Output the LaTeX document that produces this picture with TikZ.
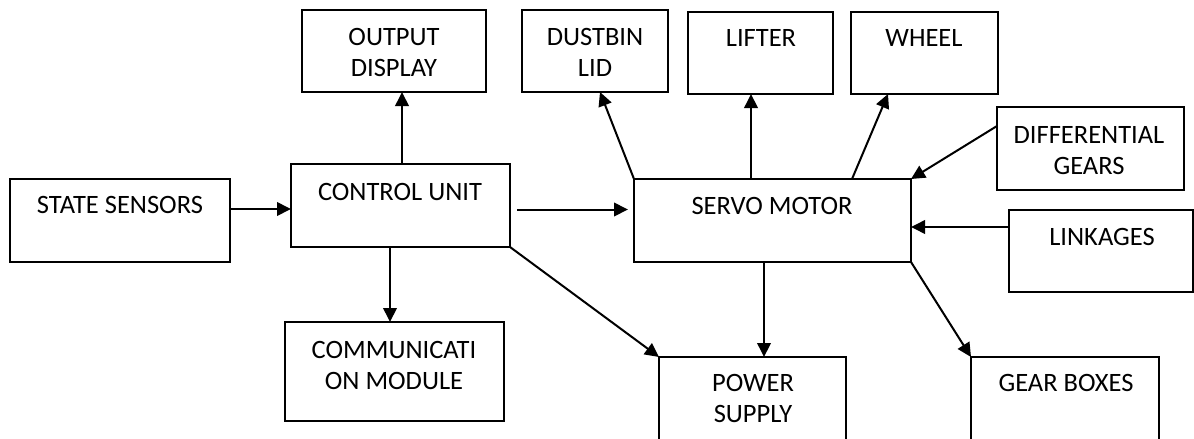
\documentclass[tikz,border=0pt]{standalone}
\usepackage{fontspec}
\setmainfont{Carlito}
\usetikzlibrary{arrows.meta}
\tikzset{
  box/.style={draw=black, line width=2pt, inner sep=0pt, outer sep=0pt, anchor=north west},
  lbl/.style={anchor=base, inner sep=0pt, align=center, font=\fontsize{26.5pt}{31pt}\selectfont},
  arr/.style={draw=black, line width=2pt, -{Triangle[length=14pt,width=13.5pt]}},
}
\begin{document}
\begin{tikzpicture}[x=1pt,y=-1pt]
\useasboundingbox (0,0) rectangle (1194,439);
% boxes
\node[box, minimum width=184pt, minimum height=82pt] (out) at (302,10) {};
\node[box, minimum width=146pt, minimum height=82pt] (dust) at (522,10) {};
\node[box, minimum width=145pt, minimum height=82pt] (lift) at (688,12) {};
\node[box, minimum width=147pt, minimum height=82pt] (wheel) at (851,12) {};
\node[box, minimum width=187pt, minimum height=83pt] (diff) at (997,107) {};
\node[box, minimum width=220pt, minimum height=83pt] (state) at (10,179) {};
\node[box, minimum width=219pt, minimum height=83pt] (ctrl) at (291,164) {};
\node[box, minimum width=277pt, minimum height=83pt] (servo) at (634,179) {};
\node[box, minimum width=184pt, minimum height=82pt] (link) at (1009,210) {};
\node[box, minimum width=219pt, minimum height=99pt] (comm) at (285,322) {};
\node[box, minimum width=187pt, minimum height=83pt] (power) at (659,357) {};
\node[box, minimum width=188pt, minimum height=83pt] (gear) at (971,357) {};
% labels (base anchor = baseline of last line)
\node[lbl] (t-out) at (394,76.5) {OUTPUT\\DISPLAY};
\node[lbl] (t-dust) at (595,76.5) {DUSTBIN\\LID};
\node[lbl] (t-lift) at (761,46.5) {LIFTER};
\node[lbl] (t-wheel) at (924,46.5) {WHEEL};
\node[lbl] (t-diff) at (1089,174.5) {DIFFERENTIAL\\GEARS};
\node[lbl] (t-state) at (120,213.5) {STATE SENSORS};
\node[lbl] (t-ctrl) at (400,200.5) {CONTROL UNIT};
\node[lbl] (t-servo) at (772,214.5) {SERVO MOTOR};
\node[lbl] (t-link) at (1102,245.5) {LINKAGES};
\node[lbl] (t-comm) at (394,389.5) {COMMUNICATI\\ON MODULE};
\node[lbl] (t-power) at (753,422.5) {POWER\\SUPPLY};
\node[lbl] (t-gear) at (1066,391.5) {GEAR BOXES};
% connector anchors
\coordinate (c1) at ([yshift=11.5pt]state.east);
\coordinate (c2) at ([xshift=7pt,yshift=-4pt]ctrl.east);
\coordinate (c3) at ([xshift=1.5pt]ctrl.north);
\coordinate (c4) at ([xshift=-10.5pt]ctrl.south);
\coordinate (c7) at ([xshift=-21.5pt]servo.north);
\coordinate (c8) at ([xshift=-59pt]servo.north east);
\coordinate (c9) at ([yshift=22.5pt]diff.west);
\coordinate (c10) at ([yshift=24pt]link.west);
\coordinate (c11) at ([xshift=-8.5pt]servo.south);
% connectors
\draw[arr] (c1) -- (c1 -| ctrl.west);
\draw[arr, shorten >=6pt] (c2) -- (c2 -| servo.west);
\draw[arr] (c3) -- (c3 |- out.south);
\draw[arr] (c4) -- (c4 |- comm.north);
\draw[arr] (ctrl.south east) -- (power.north west);
\draw[arr] (servo.north west) -- ([xshift=5pt]dust.south);
\draw[arr] (c7) -- (c7 |- lift.south);
\draw[arr] (c8) -- ([xshift=-36.5pt]wheel.south);
\draw[arr] (c9) -- (servo.north east);
\draw[arr] (c10) -- (c10 -| servo.east);
\draw[arr] (c11) -- (c11 |- power.north);
\draw[arr] (servo.south east) -- (gear.north west);
\end{tikzpicture}
\end{document}
